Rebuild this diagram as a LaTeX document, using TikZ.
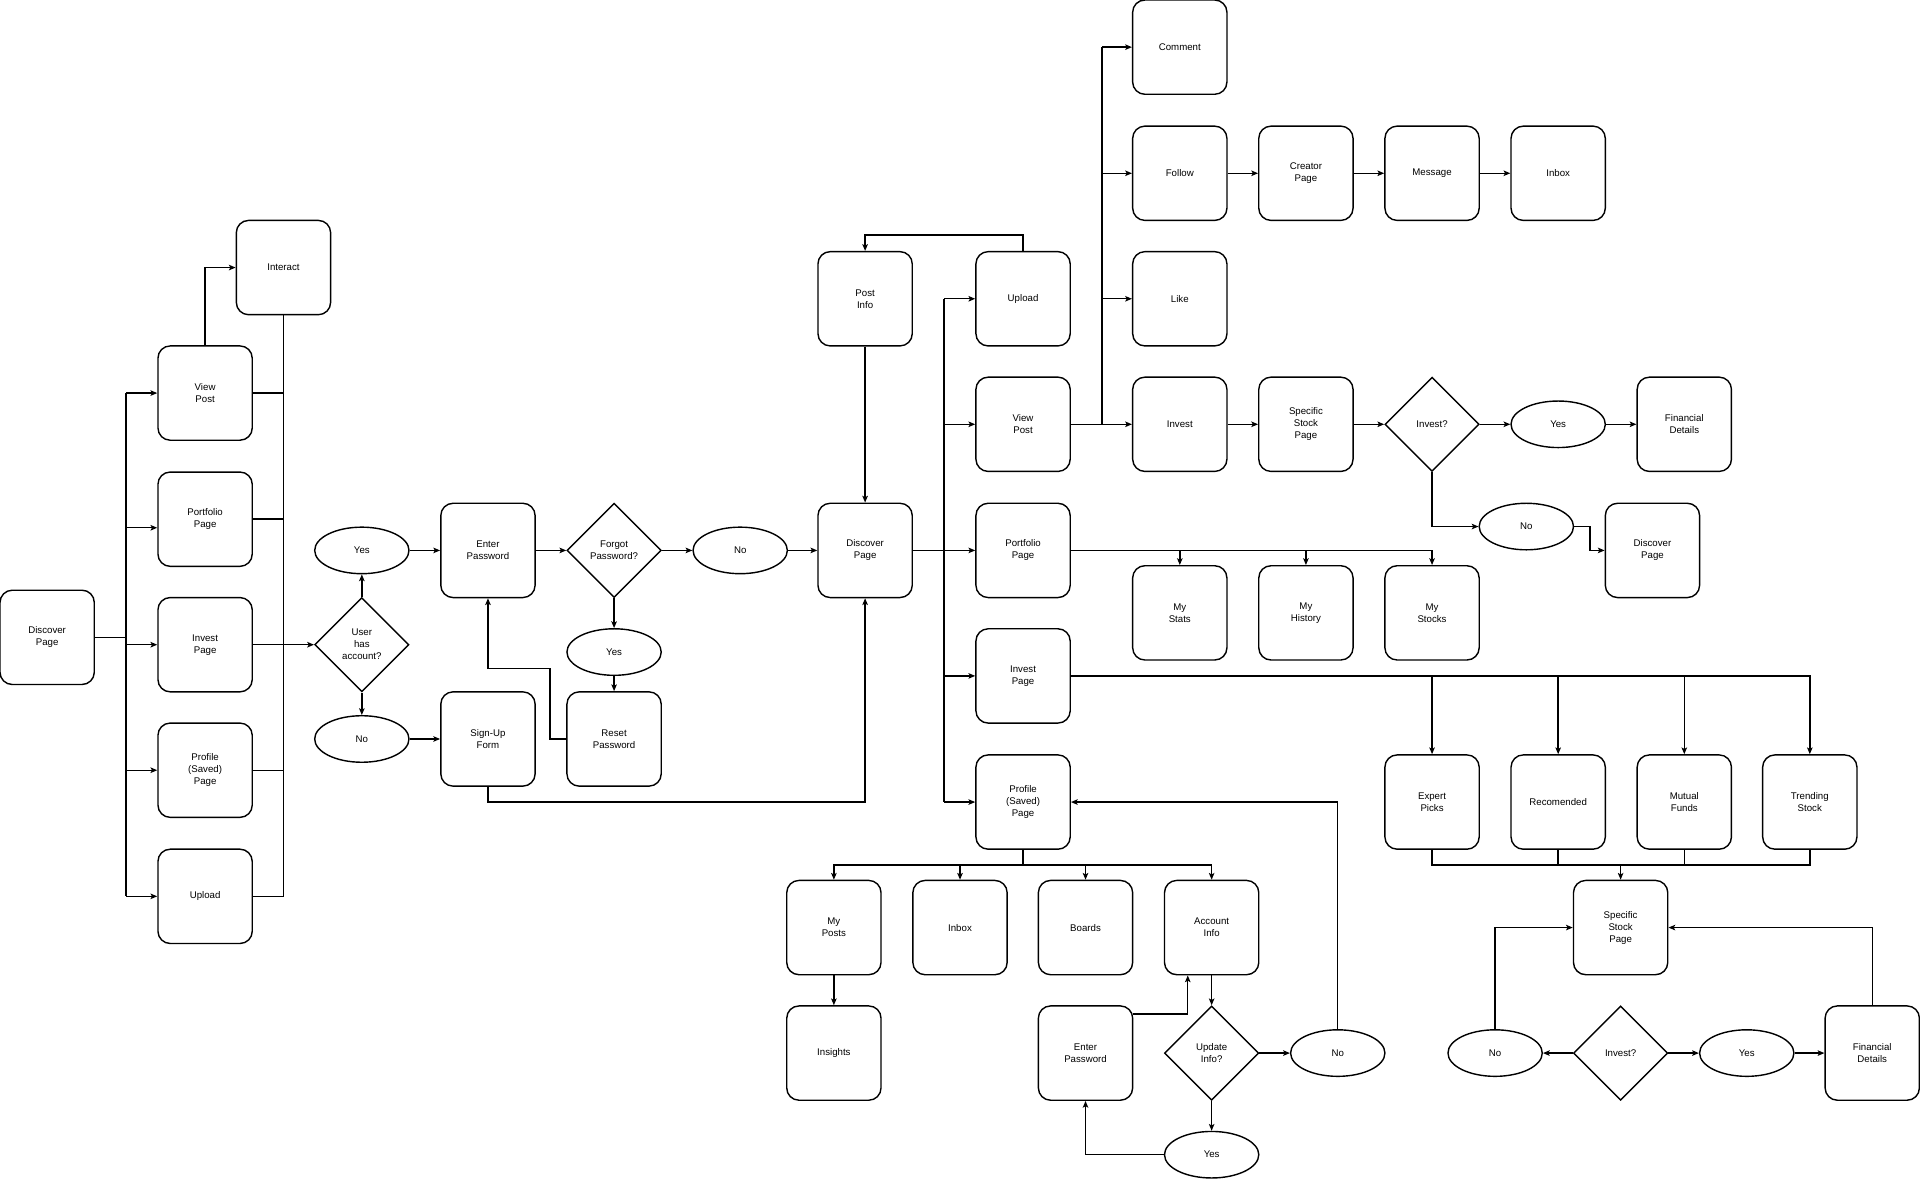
\documentclass[tikz,border=0pt]{standalone}
\usepackage{fontspec}
\setmainfont{Liberation Sans}
\usetikzlibrary{shapes.geometric,arrows.meta,calc}
\begin{document}
\begin{tikzpicture}[x=1pt,y=-1pt,
  every node/.style={font=\fontsize{7.9}{9.8}\selectfont, align=center, line width=1.15pt},
  box/.style={draw, rectangle, rounded corners=10pt, minimum width=77pt, minimum height=77pt, inner sep=1pt},
  dia/.style={draw, diamond, minimum width=77pt, minimum height=77pt, inner sep=0pt},
  ell/.style={draw, ellipse, minimum width=77pt, minimum height=38pt, inner sep=0pt},
  ln/.style={line width=1.15pt},
  arr/.style={line width=1.15pt, -{Stealth[length=5.5pt,width=4.5pt,inset=1.2pt]}}]
\useasboundingbox (0,0) rectangle (1568,964.5);
% ---------- left part ----------
\node[box] (dL) at (38.5,520.5) {Discover\\Page};
\node[box] (vpL) at (167.5,321) {View\\Post};
\node[box] (ppL) at (167.5,424) {Portfolio\\Page};
\node[box] (ipL) at (167.5,526.5) {Invest\\Page};
\node[box] (prL) at (167.5,629) {Profile\\(Saved)\\Page};
\node[box] (upL) at (167.5,732) {Upload};
\node[box] (inter) at (231.5,218.5) {Interact};
\coordinate (tL) at (103,520.5);
\draw[ln] (dL.east) -- (tL);
\draw[ln] (tL |- vpL.west) -- (tL |- upL.west);
\draw[arr] (tL |- vpL.west) -- (vpL.west);
\draw[arr] (tL |- ppL.west) ++(0,7) -- ([yshift=-7pt]ppL.west);
\draw[arr] (tL |- ipL.west) -- (ipL.west);
\draw[arr] (tL |- prL.west) -- (prL.west);
\draw[arr] (tL |- upL.west) -- (upL.west);
\draw[arr] (vpL.north) |- (inter.west);
\draw[ln] (inter.south) |- (upL.east);
\draw[ln] (vpL.east) -- (vpL.east -| inter.south);
\draw[ln] (ppL.east) -- (ppL.east -| inter.south);
\draw[ln] (prL.east) -- (prL.east -| inter.south);
% login
\node[dia] (uha) at (295.5,526.5) {User\\has\\account?};
\node[ell] (yes1) at (295.5,449.5) {Yes};
\node[ell] (no1) at (295.5,603.5) {No};
\node[box] (ep1) at (398.5,449.5) {Enter\\Password};
\node[box] (su) at (398.5,603.5) {Sign-Up\\Form};
\node[dia] (fp) at (501.5,449.5) {Forgot\\Password?};
\node[ell] (yes2) at (501.5,532.5) {Yes};
\node[box] (rp) at (501.5,603.5) {Reset\\Password};
\node[ell] (no2) at (604.5,449.5) {No};
\draw[arr] (ipL.east) -- (uha.west);
\draw[arr] (uha.north) -- (yes1.south);
\draw[arr] (uha.south) -- (no1.north);
\draw[arr] (yes1.east) -- (ep1.west);
\draw[arr] (no1.east) -- (su.west);
\draw[arr] (ep1.east) -- (fp.west);
\draw[arr] (fp.south) -- (yes2.north);
\draw[arr] (yes2.south) -- (rp.north);
\draw[arr] (fp.east) -- (no2.west);
\coordinate (rpk) at (449,546);
\draw[arr] (rp.west) -| (rpk) -| (ep1.south);
% ---------- centre ----------
\node[box] (dC) at (706.5,449.5) {Discover\\Page};
\node[box] (pi) at (706.5,244) {Post\\Info};
\node[box] (upC) at (835.5,244) {Upload};
\node[box] (vpC) at (835.5,346.5) {View\\Post};
\node[box] (ppC) at (835.5,449.5) {Portfolio\\Page};
\node[box] (ipC) at (835.5,552) {Invest\\Page};
\node[box] (prC) at (835.5,655) {Profile\\(Saved)\\Page};
\draw[arr] (no2.east) -- (dC.west);
\coordinate (suk) at (706.5,655);
\draw[arr] (su.south) |- (suk) -- (dC.south);
\draw[arr] (pi.south) -- (dC.north);
\draw[arr] (upC.north) -- ++(0,-13) -| (pi.north);
\coordinate (tC) at (771,449.5);
\draw[arr] (dC.east) -- (ppC.west);
\draw[ln] (tC |- upC.west) -- (tC |- prC.west);
\draw[arr] (tC |- upC.west) -- (upC.west);
\draw[arr] (tC |- vpC.west) -- (vpC.west);
\draw[arr] (tC |- ipC.west) -- (ipC.west);
\draw[arr] (tC |- prC.west) -- (prC.west);
% ---------- view post branch ----------
\node[box] (com) at (963.5,38.5) {Comment};
\node[box] (fol) at (963.5,141.5) {Follow};
\node[box] (lik) at (963.5,244) {Like};
\node[box] (inv) at (963.5,346.5) {Invest};
\node[box] (cre) at (1066.5,141.5) {Creator\\Page};
\node[box] (msg) at (1169.5,141.5) {Message};
\node[box] (inb) at (1272.5,141.5) {Inbox};
\node[box] (ssp) at (1066.5,346.5) {Specific\\Stock\\Page};
\node[dia] (inq) at (1169.5,346.5) {Invest?};
\node[ell] (yes3) at (1272.5,346.5) {Yes};
\node[box] (fd1) at (1375.5,346.5) {Financial\\Details};
\node[ell] (no3) at (1246.5,430) {No};
\node[box] (dR) at (1349.5,449.5) {Discover\\Page};
\coordinate (tV) at (900,346.5);
\draw[arr] (vpC.east) -- (inv.west);
\draw[ln] (tV) -- (tV |- com.west);
\draw[arr] (tV |- com.west) -- (com.west);
\draw[arr] (tV |- fol.west) -- (fol.west);
\draw[arr] (tV |- lik.west) -- (lik.west);
\draw[arr] (fol.east) -- (cre.west);
\draw[arr] (cre.east) -- (msg.west);
\draw[arr] (msg.east) -- (inb.west);
\draw[arr] (inv.east) -- (ssp.west);
\draw[arr] (ssp.east) -- (inq.west);
\draw[arr] (inq.east) -- (yes3.west);
\draw[arr] (yes3.east) -- (fd1.west);
\draw[arr] (inq.south) |- (no3.west);
\draw[arr] (no3.east) -- ++(13,0) |- (dR.west);
% ---------- portfolio branch ----------
\node[box] (mst) at (963.5,500.5) {My\\Stats};
\node[box] (mhi) at (1066.5,500.5) {My\\History};
\node[box] (mso) at (1169.5,500.5) {My\\Stocks};
\draw[arr] (ppC.east) -| (mso.north);
\draw[arr] (ppC.east -| mst.north) -- (mst.north);
\draw[arr] (ppC.east -| mhi.north) -- (mhi.north);
% ---------- invest branch ----------
\node[box] (exp) at (1169.5,655) {Expert\\Picks};
\node[box] (rec) at (1272.5,655) {Recomended};
\node[box] (mf) at (1375.5,655) {Mutual\\Funds};
\node[box] (ts) at (1478,655) {Trending\\Stock};
\node[box] (ssp2) at (1323.5,757.5) {Specific\\Stock\\Page};
\node[dia] (inq2) at (1323.5,860) {Invest?};
\node[ell] (no4) at (1221,860) {No};
\node[ell] (yes4) at (1426.5,860) {Yes};
\node[box] (fd2) at (1529,860) {Financial\\Details};
\draw[arr] (ipC.east) -| (ts.north);
\draw[arr] (ipC.east -| exp.north) -- (exp.north);
\draw[arr] (ipC.east -| rec.north) -- (rec.north);
\draw[arr] (ipC.east -| mf.north) -- (mf.north);
\coordinate (mg) at (1323.5,706.5);
\draw[ln] (exp.south) |- (mg) -| (ts.south);
\draw[ln] (rec.south) -- (rec.south |- mg);
\draw[ln] (mf.south) -- (mf.south |- mg);
\draw[arr] (mg) -- (ssp2.north);
\draw[arr] (inq2.west) -- (no4.east);
\draw[arr] (inq2.east) -- (yes4.west);
\draw[arr] (yes4.east) -- (fd2.west);
\draw[arr] (no4.north) |- (ssp2.west);
\draw[arr] (fd2.north) |- (ssp2.east);
% ---------- profile branch ----------
\node[box] (mpo) at (681,757.5) {My\\Posts};
\node[box] (inb2) at (784,757.5) {Inbox};
\node[box] (boa) at (886.5,757.5) {Boards};
\node[box] (acc) at (989.5,757.5) {Account\\Info};
\node[box] (ins) at (681,860) {Insights};
\node[dia] (upd) at (989.5,860) {Update\\Info?};
\node[ell] (no5) at (1092.5,860) {No};
\node[ell] (yes5) at (989.5,943) {Yes};
\node[box] (ep2) at (886.5,860) {Enter\\Password};
\coordinate (pk) at (835.5,706.5);
\draw[ln] (prC.south) -- (pk);
\draw[arr] (pk) -| (mpo.north);
\draw[arr] (pk) -| (acc.north);
\draw[arr] (pk -| inb2.north) -- (inb2.north);
\draw[arr] (pk -| boa.north) -- (boa.north);
\draw[arr] (mpo.south) -- (ins.north);
\draw[arr] (acc.south) -- (upd.north);
\draw[arr] (upd.east) -- (no5.west);
\draw[arr] (upd.south) -- (yes5.north);
\draw[arr] (no5.north) |- (prC.east);
\draw[arr] (yes5.west) -| (ep2.south);
\coordinate (epk) at (970,828);
\draw[arr] (ep2.east |- epk) -- (epk) -- (epk |- acc.south);
\end{tikzpicture}
\end{document}
